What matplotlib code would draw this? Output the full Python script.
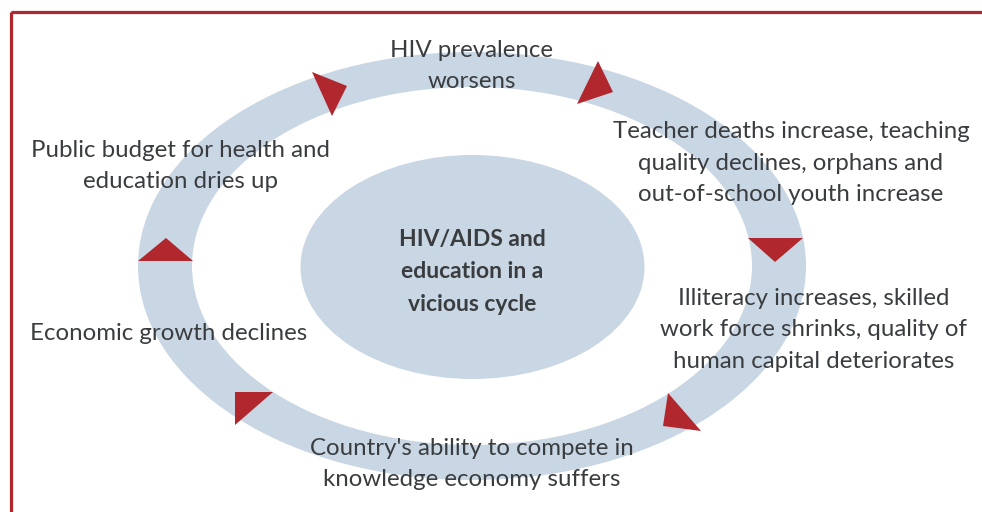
import matplotlib
matplotlib.use("Agg")
import matplotlib.pyplot as plt
from matplotlib.patches import Ellipse, Polygon, Rectangle

# ---- content ----
stage_labels = [
    "HIV prevalence\nworsens",
    "Teacher deaths increase, teaching\nquality declines, orphans and\nout-of-school youth increase",
    "Illiteracy increases, skilled\nwork force shrinks, quality of\nhuman capital deteriorates",
    "Country's ability to compete in\nknowledge economy suffers",
    "Economic growth declines",
    "Public budget for health and\neducation dries up",
]
stage_x = [472, 791, 814, 472, 169, 181]
stage_y = [66, 163, 330, 464, 333, 166]
center_label = "HIV/AIDS and\neducation in a\nvicious cycle"

# arrow heads (pixel coordinates of triangle vertices)
arrow_heads = [
    [(312, 72), (347, 86), (332, 116)],
    [(598, 61), (613, 92), (577, 104)],
    [(748, 238), (803, 238), (775, 262)],
    [(668, 393), (663, 426), (701, 431)],
    [(235, 392), (273, 392), (235, 425)],
    [(138, 261), (193, 261), (166, 238)],
]

RING = "#c9d6e3"
RED = "#b0272e"
TEXT = "#3a3d40"
FONT = ["Lato", "DejaVu Sans"]

fig = plt.figure(figsize=(9.82, 5.12), dpi=100)
ax = fig.add_axes([0, 0, 1, 1])
ax.set_xlim(0, 982)
ax.set_ylim(512, 0)
ax.axis("off")

# border
ax.add_patch(Rectangle((11, 12), 1200, 800, fill=False, edgecolor=RED, linewidth=2.3))

# ring
cx, cy = 472, 266
ax.add_patch(Ellipse((cx, cy), 2 * 334, 2 * 214, facecolor=RING, edgecolor="none"))
ax.add_patch(Ellipse((cx, cy), 2 * 280, 2 * 179, facecolor="white", edgecolor="none"))
# center
ax.add_patch(Ellipse((472.5, 267), 2 * 172, 2 * 112, facecolor=RING, edgecolor="none"))

for tri in arrow_heads:
    ax.add_patch(Polygon(tri, closed=True, facecolor=RED, edgecolor="none"))

for lab, x, y in zip(stage_labels, stage_x, stage_y):
    ax.text(x, y, lab, ha="center", va="center", fontsize=17.3, color=TEXT,
            family=FONT, linespacing=1.62, multialignment="center")

ax.text(472, 272, center_label, ha="center", va="center", fontsize=16.5,
        color=TEXT, family=FONT, fontweight="bold", linespacing=1.66,
        multialignment="center")

fig.savefig("out.png", dpi=100)
